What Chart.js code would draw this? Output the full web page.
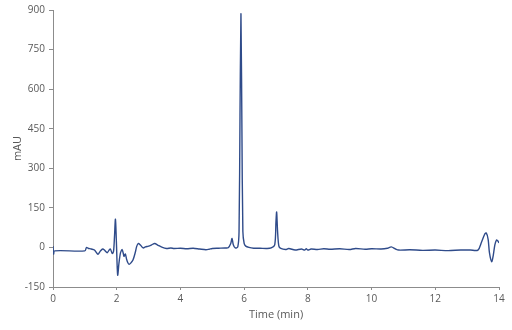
<!DOCTYPE html>
<html>
<head>
<meta charset="utf-8">
<script src="https://cdn.jsdelivr.net/npm/chart.js@4.4.1/dist/chart.umd.min.js"></script>
<style>
  html, body { margin: 0; padding: 0; background: #fff; }
  #wrap { width: 512px; height: 330px; }
</style>
</head>
<body>
<div id="wrap"><canvas id="chromChart" width="512" height="330"></canvas></div>
<script>
// chromatogram trace
const timeMin = [
  0, 0.02, 0.05, 1.0, 1.05, 1.1, 1.2, 1.3, 1.41, 1.48, 1.56, 1.63, 1.70, 1.75, 1.80, 1.86, 1.90,
  1.93, 1.96, 1.99, 2.03, 2.07, 2.12, 2.17, 2.21, 2.23, 2.27, 2.31, 2.35, 2.39, 2.45, 2.51, 2.58,
  2.63, 2.68, 2.75, 2.83, 2.9, 3.0, 3.1, 3.19, 3.3, 3.4, 3.56, 3.7, 3.8, 4.0, 4.2, 4.4, 4.6, 4.8,
  4.9, 5.0, 5.2, 5.4, 5.5, 5.58, 5.62, 5.66, 5.72, 5.80, 5.84, 5.87, 5.90, 5.93, 5.96, 6.0, 6.05,
  6.15, 6.3, 6.5, 6.7, 6.85, 6.96, 7.0, 7.02, 7.05, 7.09, 7.15, 7.3, 7.4, 7.6, 7.8, 7.9, 7.95, 8.0,
  8.1, 8.3, 8.5, 8.7, 9.0, 9.3, 9.5, 9.8, 10.0, 10.3, 10.5, 10.62, 10.75, 10.85, 11.2, 11.6, 12.0,
  12.4, 12.8, 13.1, 13.34, 13.45, 13.55, 13.60, 13.66, 13.70, 13.77, 13.82, 13.87, 13.92, 13.96, 14.0
];
const absorbance = [
  5, -25, -13, -13, 0, -3, -6, -10, -26, -15, -6, -12, -20, -12, -6, -23, -15,
  40, 107, 20, -105, -60, -20, -8, -25, -35, -25, -45, -58, -64, -58, -48, -20,
  5, 15, 8, -2, 2, 5, 10, 15, 8, 2, -4, -2, -4, -3, -5, -3, -6, -9,
  -7, -4, -3, -2, -1, 15, 34, 10, -2, 2, 60, 500, 886, 450, 60, 15, 5,
  0, -3, -3, -4, -2, 10, 100, 134, 60, 5, -4, -8, -4, -10, -6, -10, -5, -10,
  -6, -8, -5, -7, -5, -8, -4, -7, -5, -6, -3, 2, -6, -10, -9, -11, -10,
  -12, -10, -10, -10, 20, 50, 55, 30, -20, -54, -30, 10, 28, 25, 17
];
const xTickValues = [0, 2, 4, 6, 8, 10, 12, 14];
const yTickValues = [-150, 0, 150, 300, 450, 600, 750, 900];

const points = timeMin.map((t, i) => ({ x: t, y: absorbance[i] }));

const axisGray = '#8c8c8c';
const textGray = '#595959';
Chart.defaults.font.family = "'Open Sans', 'Noto Sans', sans-serif";
Chart.defaults.color = textGray;

new Chart(document.querySelector('#chromChart'), {
  type: 'line',
  data: {
    datasets: [{
      label: 'mAU',
      data: points,
      borderColor: '#2f4b8a',
      borderWidth: 1.4,
      pointRadius: 0,
      tension: 0.3,
      fill: false
    }]
  },
  options: {
    responsive: false,
    animation: false,
    layout: { padding: { top: 9, right: 13, left: 4, bottom: 5 } },
    plugins: { legend: { display: false }, tooltip: { enabled: false } },
    scales: {
      x: {
        type: 'linear',
        min: 0, max: 14,
        afterBuildTicks: s => { s.ticks = xTickValues.map(v => ({ value: v })); },
        afterFit: s => { s.height = 38; },
        grid: { drawOnChartArea: false, drawTicks: true, tickLength: 3, color: axisGray },
        border: { display: true, color: axisGray },
        ticks: { font: { size: 10 }, padding: 3, maxRotation: 0 },
        title: { display: true, text: 'Time (min)', font: { size: 11 }, padding: { top: 2, bottom: 4 } }
      },
      y: {
        min: -150, max: 900,
        afterBuildTicks: s => { s.ticks = yTickValues.map(v => ({ value: v })); },
        afterFit: s => { s.width = 49; },
        grid: { drawOnChartArea: false, drawTicks: true, tickLength: 4, color: axisGray },
        border: { display: true, color: axisGray },
        ticks: { font: { size: 10 }, padding: 4 },
        title: { display: true, text: 'mAU', font: { size: 11 }, padding: { top: 7, bottom: 2 } }
      }
    }
  }
});
</script>
</body>
</html>
